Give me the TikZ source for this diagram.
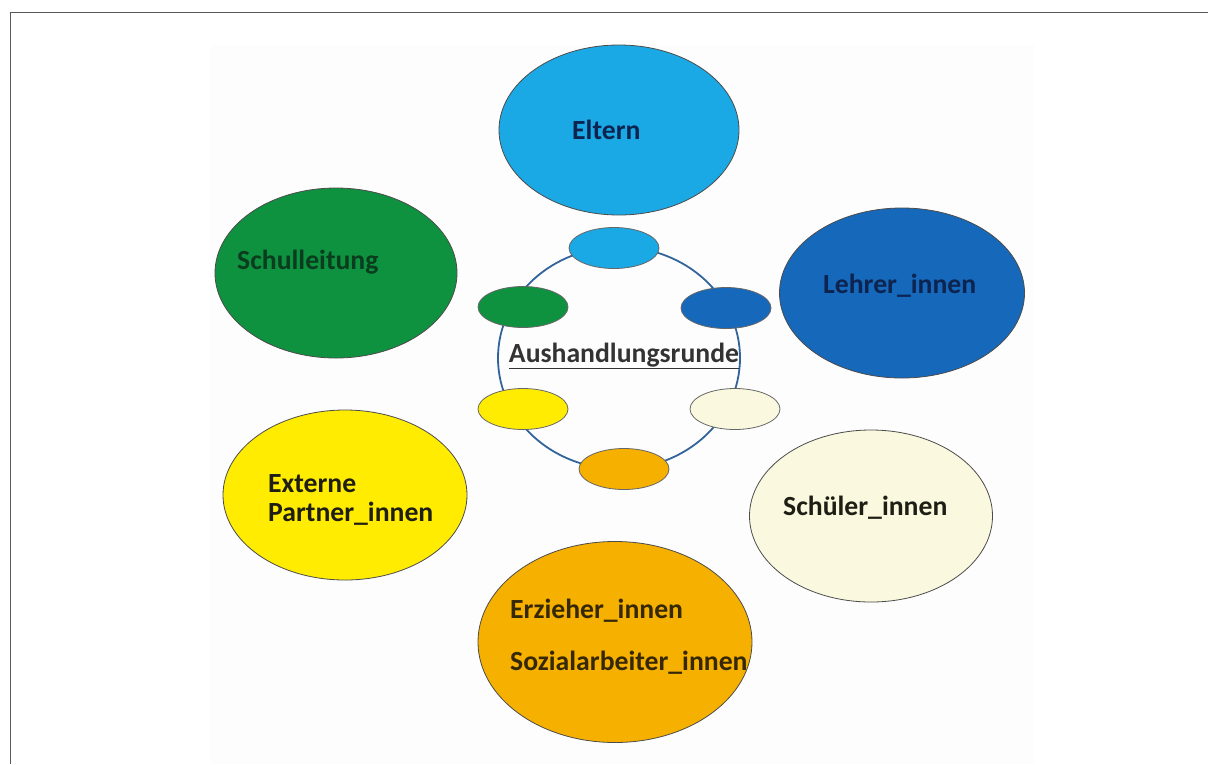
\documentclass[tikz,border=0pt]{standalone}
\usepackage{fontspec}
\setmainfont{Carlito}
\usetikzlibrary{shapes.geometric}
\definecolor{cEltern}{RGB}{27,169,230}
\definecolor{cSchul}{RGB}{14,146,64}
\definecolor{cLehrer}{RGB}{21,104,186}
\definecolor{cExtern}{RGB}{255,236,0}
\definecolor{cSchueler}{RGB}{250,248,222}
\definecolor{cErz}{RGB}{245,176,0}
\definecolor{cRing}{RGB}{50,100,155}
\definecolor{cBg}{RGB}{253,253,253}
\definecolor{tNavy}{RGB}{14,36,80}
\definecolor{tGreen}{RGB}{10,60,30}
\definecolor{tDark}{RGB}{30,30,20}
\definecolor{tBrown}{RGB}{55,40,5}
\tikzset{
  big/.style={ellipse, draw=black!70, line width=0.8pt, inner sep=0pt},
  small/.style={ellipse, draw=black!60, line width=0.8pt, inner sep=0pt, minimum width=90pt, minimum height=41pt},
  lbl/.style={font=\fontsize{27.7}{32}\selectfont\bfseries, inner sep=0pt, align=left}
}
\begin{document}
\begin{tikzpicture}[x=1pt,y=-1pt]
\useasboundingbox (0,0) rectangle (1208,764);
\fill[white] (0,0) rectangle (1208,764);
\fill[cBg] (210,45) rectangle (1034,764);
\draw[black!65, line width=1.8pt] (10.5,764) -- (10.5,12.5) -- (1208,12.5);
% ring
\node[ellipse, draw=cRing, line width=1.8pt, minimum width=242pt, minimum height=222pt, inner sep=0pt] (ring) at (619,358) {};
% small ellipses
\node[small, fill=cEltern] (sEltern) at (614,248) {};
\node[small, fill=cSchul] (sSchul) at (523,307) {};
\node[small, fill=cLehrer] (sLehrer) at (726,308) {};
\node[small, fill=cExtern] (sExtern) at (523,409) {};
\node[small, fill=cSchueler] (sSchueler) at (735,409) {};
\node[small, fill=cErz] (sErz) at (624,469) {};
\node[font=\fontsize{27.7}{32}\selectfont\bfseries, text=black!80, inner sep=0pt] (runde) at (624,356) {\underline{Aushandlungsrunde}};
% big ellipses
\node[big, fill=cEltern, minimum width=240pt, minimum height=170pt] (Eltern) at (619,130) {};
\node[big, fill=cSchul, minimum width=242pt, minimum height=170pt] (Schul) at (336,273) {};
\node[big, fill=cLehrer, minimum width=245pt, minimum height=170pt] (Lehrer) at (902,293) {};
\node[big, fill=cExtern, minimum width=244pt, minimum height=170pt] (Extern) at (345,495) {};
\node[big, fill=cSchueler, minimum width=243pt, minimum height=172pt] (Schueler) at (871,516) {};
\node[big, fill=cErz, minimum width=274pt, minimum height=201pt] (Erz) at (615,642) {};
% labels
\node[lbl, text=tNavy, anchor=west] (tEltern) at (572,130) {Eltern};
\node[lbl, text=tGreen, anchor=west] (tSchul) at (237,262) {Schulleitung};
\node[lbl, text=tNavy, anchor=west] (tLehrer) at (823,286) {Lehrer\_innen};
\node[lbl, text=tDark, anchor=west] (tExt1) at (268,484) {Externe};
\node[lbl, text=tDark, anchor=west] (tExt2) at (268,514) {Partner\_innen};
\node[lbl, text=tDark, anchor=west] (tSchueler) at (783,508) {Schüler\_innen};
\node[lbl, text=tBrown, anchor=west] (tErz1) at (510,611) {Erzieher\_innen};
\node[lbl, text=tBrown, anchor=west] (tErz2) at (510,663) {Sozialarbeiter\_innen};
\end{tikzpicture}
\end{document}
